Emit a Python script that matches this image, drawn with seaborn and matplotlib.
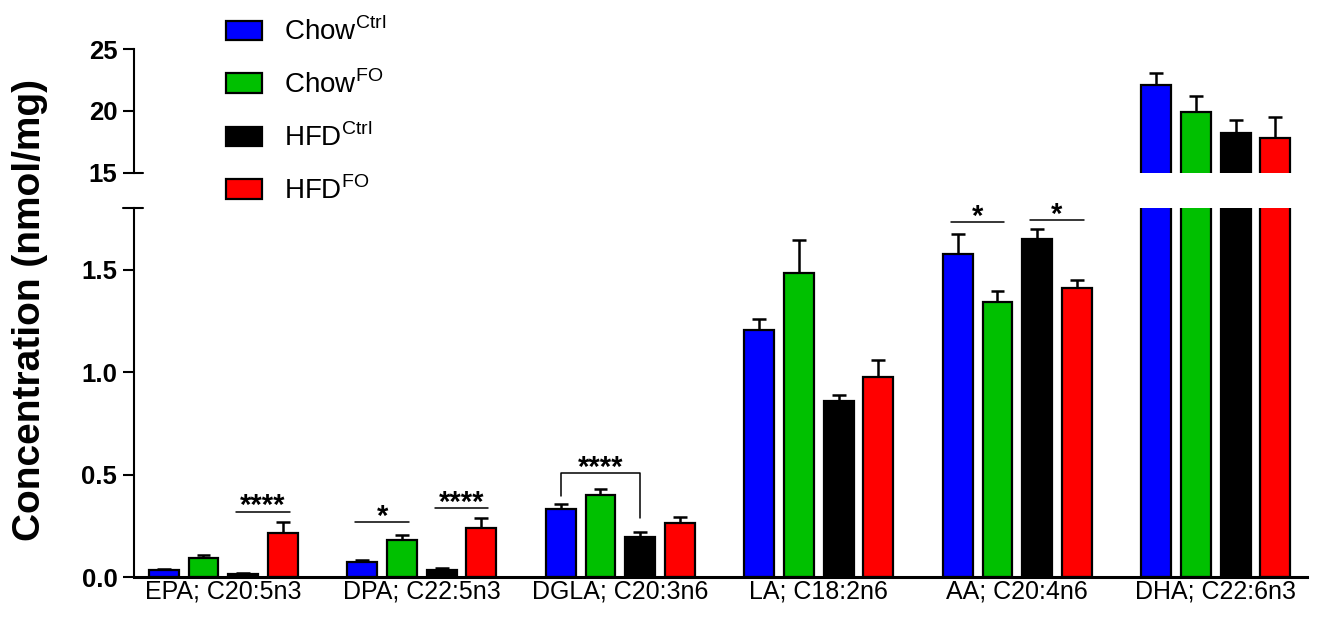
import matplotlib
matplotlib.use("Agg")
import matplotlib.pyplot as plt
import seaborn as sns
import pandas as pd
import numpy as np

# ---------------- data ----------------
categories = ["EPA; C20:5n3", "DPA; C22:5n3", "DGLA; C20:3n6",
              "LA; C18:2n6", "AA; C20:4n6", "DHA; C22:6n3"]
groups = ["ChowCtrl", "ChowFO", "HFDCtrl", "HFDFO"]
group_labels = [r"Chow$^{\mathregular{Ctrl}}$", r"Chow$^{\mathregular{FO}}$",
                r"HFD$^{\mathregular{Ctrl}}$", r"HFD$^{\mathregular{FO}}$"]
colors = ["#0000FF", "#00C000", "#000000", "#FF0000"]

chow_ctrl = [0.035, 0.071, 0.332, 1.203, 1.578, 22.07]
chow_fo = [0.095, 0.183, 0.400, 1.482, 1.341, 19.87]
hfd_ctrl = [0.017, 0.033, 0.197, 0.860, 1.650, 18.23]
hfd_fo = [0.213, 0.238, 0.264, 0.978, 1.411, 17.79]

chow_ctrl_err = [0.006, 0.013, 0.025, 0.057, 0.093, 1.00]
chow_fo_err = [0.013, 0.022, 0.030, 0.160, 0.055, 1.30]
hfd_ctrl_err = [0.004, 0.012, 0.023, 0.030, 0.048, 1.00]
hfd_fo_err = [0.057, 0.048, 0.027, 0.080, 0.037, 1.70]

lower_ticks = [0.0, 0.5, 1.0, 1.5]
upper_ticks = [15, 20, 25]

# significance: (category, bar i, bar j, line height, text, bracket legs)
sig = [
    (0, 2, 3, 0.319, "****", None),
    (1, 0, 1, 0.267, "*", None),
    (1, 2, 3, 0.335, "****", None),
    (2, 0, 2, 0.508, "****", (0.394, 0.288)),
    (4, 0, 1, 1.731, "*", None),
    (4, 2, 3, 1.743, "*", None),
]

values = [chow_ctrl, chow_fo, hfd_ctrl, hfd_fo]
errors = [chow_ctrl_err, chow_fo_err, hfd_ctrl_err, hfd_fo_err]

rows = []
for g, vals in zip(groups, values):
    for c, v in zip(categories, vals):
        rows.append({"category": c, "group": g, "value": v})
df = pd.DataFrame(rows)

# ---------------- style ----------------
sns.set_style("ticks")
plt.rcParams["font.family"] = ["Liberation Sans", "DejaVu Sans"]
plt.rcParams["mathtext.fontset"] = "custom"
plt.rcParams["mathtext.rm"] = "Liberation Sans"
for k in ["text.color", "axes.labelcolor", "xtick.color", "ytick.color", "axes.edgecolor"]:
    plt.rcParams[k] = "black"

fig = plt.figure(figsize=(13.19, 6.18), dpi=100)
ax_lo = fig.add_axes([0.1016, 0.0663, 0.8894, 0.5971])
ax_hi = fig.add_axes([0.1016, 0.7206, 0.8894, 0.2001])

for ax in (ax_lo, ax_hi):
    sns.barplot(data=df, x="category", y="value", hue="group",
                hue_order=groups, order=categories, palette=colors,
                edgecolor="black", linewidth=1.6, errorbar=None,
                width=0.8, gap=0.25, legend=False, ax=ax, saturation=1)
    # error bars (upper only)
    for h, cont in enumerate(ax.containers):
        for bar, err in zip(cont, errors[h]):
            x = bar.get_x() + bar.get_width() / 2
            top = bar.get_height()
            ax.vlines(x, top, top + err, colors="black", lw=1.8, zorder=1)
            ax.hlines(top + err, x - 0.035, x + 0.035, colors="black", lw=1.8, zorder=3)
    ax.set_xlim(-0.45, 5.46)
    ax.set_xlabel("")
    ax.set_ylabel("")

# lower axes
ax_lo.set_ylim(0, 1.8)
ax_lo.set_yticks(lower_ticks)
ax_lo.set_yticklabels([f"{t:.1f}" for t in lower_ticks])
sns.despine(ax=ax_lo)
ax_lo.spines["left"].set_linewidth(1.5)
ax_lo.spines["bottom"].set_linewidth(2.2)
ax_lo.tick_params(axis="y", length=8, width=1.5, pad=4, labelsize=18.5)
ax_lo.tick_params(axis="x", length=0, pad=2, labelsize=18)
for lab in ax_lo.get_yticklabels():
    lab.set_fontweight("bold")

# upper axes
ax_hi.set_ylim(15, 25)
ax_hi.set_yticks(upper_ticks)
ax_hi.set_yticklabels([str(t) for t in upper_ticks])
sns.despine(ax=ax_hi, bottom=True)
ax_hi.spines["left"].set_linewidth(1.5)
ax_hi.set_xticks([])
ax_hi.tick_params(axis="y", length=8, width=1.5, pad=4, labelsize=18.5)
for lab in ax_hi.get_yticklabels():
    lab.set_fontweight("bold")

# break marks
axw_px = 0.8894 * 1319
ax_hi.plot([0, 9 / axw_px], [15, 15], transform=ax_hi.get_yaxis_transform(),
           color="black", lw=1.5, clip_on=False)
ax_lo.plot([-11 / axw_px, 9 / axw_px], [1.8, 1.8], transform=ax_lo.get_yaxis_transform(),
           color="black", lw=1.5, clip_on=False)

# significance annotations
for cat, i, j, y, txt, legs in sig:
    bi = ax_lo.containers[i][cat]
    bj = ax_lo.containers[j][cat]
    xi = bi.get_x() + bi.get_width() / 2
    xj = bj.get_x() + bj.get_width() / 2
    if legs is None:
        ax_lo.plot([xi - 0.035, xj + 0.035], [y, y], color="black", lw=1.1, clip_on=False)
    else:
        ax_lo.plot([xi, xi, xj, xj], [legs[0], y, y, legs[1]], color="black",
                   lw=1.1, clip_on=False)
    ax_lo.annotate(txt, xy=((xi + xj) / 2, y), xytext=(0, -2), textcoords="offset points",
                   ha="center", va="baseline", fontsize=21, fontweight="bold",
                   annotation_clip=False)

# legend
handles = [cont.patches[0] for cont in ax_lo.containers]
fig.legend(handles, group_labels, loc="upper left",
           bbox_to_anchor=(226 / 1319, 1 - 17 / 618), bbox_transform=fig.transFigure,
           frameon=False, fontsize=20, handlelength=1.3, handleheight=0.7,
           handletextpad=0.8, labelspacing=0.87, borderpad=0, borderaxespad=0)

# y label
fig.text(30 / 1319, 1 - 310 / 618, "Concentration (nmol/mg)", rotation=90,
         ha="center", va="center", fontsize=28, fontweight="bold")

fig.savefig("out.png", dpi=100)
